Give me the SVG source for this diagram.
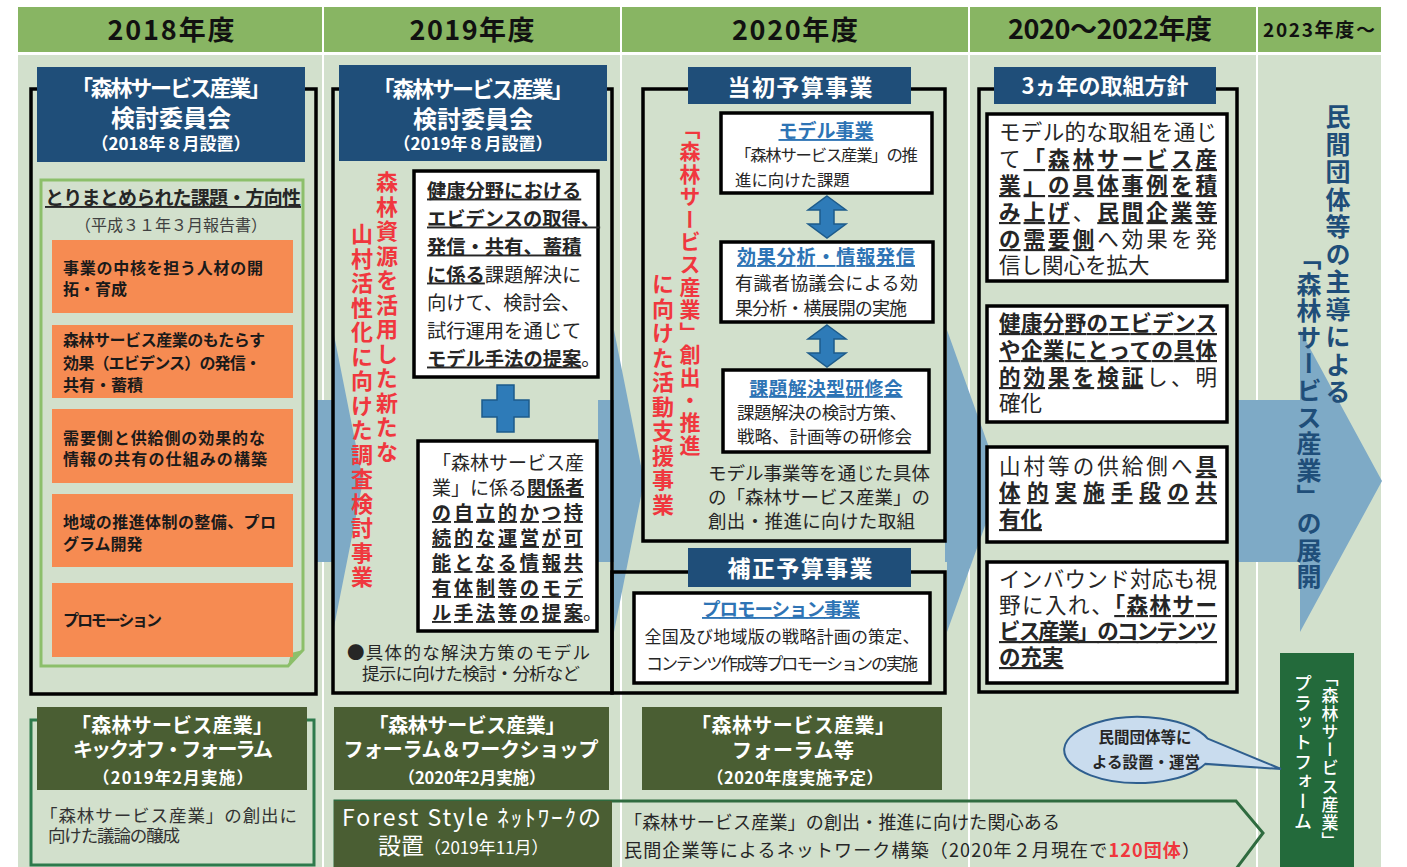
<svg xmlns="http://www.w3.org/2000/svg" width="1407" height="867" viewBox="0 0 1407 867">
<defs>
<style>
text{font-family:"Noto Sans CJK JP","Noto Sans CJK SC",sans-serif;fill:#262626}
.yr{font-size:27px;font-weight:700;fill:#111;text-anchor:middle}
.fr{fill:none;stroke:#000;stroke-width:3.5}
.hb{fill:#1f4e79}
.ht{fill:#fff;font-weight:700;text-anchor:middle}
.or{fill:#f68b52}
.ot{font-size:16px;font-weight:700;fill:#1a1a1a}
.wb{fill:#fff;stroke:#000;stroke-width:3.5}
.rv{fill:#f0373e;font-weight:700;writing-mode:vertical-rl}
.bv{fill:#1f4e79;font-weight:700;writing-mode:vertical-rl}
.wv{fill:#fff;font-weight:500;writing-mode:vertical-rl}
.bt{fill:#2e74b5;font-weight:700;text-decoration:underline;text-anchor:middle}
.b{font-weight:700;text-decoration:underline}
.dg{fill:#4a5e33}
.dt{fill:#fff;text-anchor:middle;font-weight:700}
.wt{fill:#fff}
.gt{fill:#333}
.bga{fill:#7eaac6}
.da{fill:#2e7bb8;stroke:#1d5b8b;stroke-width:1.5}
</style>
</defs>
<g id="background">
<rect width="1407" height="867" fill="#fff"/>
<rect x="18" y="7" width="1363" height="45" fill="#88b563"/>
<rect x="18" y="55" width="1363" height="812" fill="#d2e0cc"/>
<g stroke="#fff" stroke-width="2">
<line x1="323" y1="7" x2="323" y2="867"/>
<line x1="621" y1="7" x2="621" y2="867"/>
<line x1="969" y1="7" x2="969" y2="867"/>
<line x1="1257" y1="7" x2="1257" y2="867"/>
</g>
</g>
<g id="year-headers">
<text class="yr" x="171" y="40" textLength="127">2018年度</text>
<text class="yr" x="472" y="40" textLength="125">2019年度</text>
<text class="yr" x="795" y="40" textLength="126">2020年度</text>
<text class="yr" x="1110" y="39" textLength="204">2020～2022年度</text>
<text class="yr" x="1319" y="37" style="font-size:19px" textLength="112">2023年度～</text>
</g>
<g id="connectors">
<polygon class="bga" points="317,400 333,400 333,330 363,481 333,632 333,562 317,562"/>
<polygon class="bga" points="598,400 614,400 614,330 644,481 614,632 614,562 598,562"/>
<polygon class="bga" points="945,400 947,400 947,330 1001,481 947,632 947,562 945,562"/>
<polygon class="bga" points="1238,400 1300,400 1300,330 1382,481 1300,632 1300,562 1238,562"/>
<polygon class="da" points="827,196 846,210 834,210 834,224 846,224 827,238 808,224 820,224 820,210 808,210"/>
<polygon class="da" points="827,325 846,339 834,339 834,353 846,353 827,367 808,353 820,353 820,339 808,339"/>
<polygon class="da" points="497,385 514,385 514,400 529,400 529,417 514,417 514,432 497,432 497,417 482,417 482,400 497,400"/>
</g>
<g id="n2018-committee">
<rect class="fr" x="31" y="89" width="285" height="605"/>
<rect class="hb" x="37" y="67" width="268" height="95"/>
<text class="ht" x="171" y="96" font-size="22" textLength="200">「森林サービス産業」</text>
<text class="ht" x="171" y="127" font-size="24">検討委員会</text>
<text class="ht" x="171" y="150" font-size="17">（2018年８月設置）</text>
</g>
<g id="n2018-issues">
<path d="M41 180 H303 V650 L288 666 H41 Z" fill="none" stroke="#8cbf6a" stroke-width="3"/>
<polygon points="288,666 291,653 303,650" fill="#8cbf6a"/>
<text x="45" y="205" font-size="19" class="b" textLength="256">とりまとめられた課題・方向性</text>
<text x="171" y="231" font-size="16" style="fill:#404040" text-anchor="middle">（平成３１年３月報告書）</text>
<rect class="or" x="52" y="240" width="241" height="73"/>
<text class="ot" x="63" y="274" textLength="200">事業の中核を担う人材の開</text>
<text class="ot" x="63" y="295">拓・育成</text>
<rect class="or" x="52" y="325" width="241" height="73"/>
<text class="ot" x="63" y="346" textLength="202">森林サービス産業のもたらす</text>
<text class="ot" x="63" y="369" textLength="198">効果（エビデンス）の発信・</text>
<text class="ot" x="63" y="391">共有・蓄積</text>
<rect class="or" x="52" y="409" width="241" height="74"/>
<text class="ot" x="63" y="444" textLength="202">需要側と供給側の効果的な</text>
<text class="ot" x="63" y="465" textLength="204">情報の共有の仕組みの構築</text>
<rect class="or" x="52" y="494" width="241" height="73"/>
<text class="ot" x="63" y="528" textLength="213">地域の推進体制の整備、プロ</text>
<text class="ot" x="63" y="550">グラム開発</text>
<rect class="or" x="52" y="583" width="241" height="74"/>
<text class="ot" x="63" y="626" textLength="99">プロモーション</text>
</g>
<g id="n2019-committee">
<rect class="fr" x="333" y="89" width="279" height="604"/>
<rect class="hb" x="339" y="65" width="268" height="96"/>
<text class="ht" x="473" y="97" font-size="22" textLength="201">「森林サービス産業」</text>
<text class="ht" x="473" y="128" font-size="24">検討委員会</text>
<text class="ht" x="473" y="150" font-size="17">（2019年８月設置）</text>
<text class="rv" x="387" y="171" font-size="22" letter-spacing="2.5">森林資源を活用した新たな</text>
<text class="rv" x="362" y="223" font-size="22" letter-spacing="2.5">山村活性化に向けた調査検討事業</text>
</g>
<g id="n2019-health">
<rect class="wb" x="414" y="171" width="184" height="206"/>
<g font-size="19.3">
<text x="427" y="197.5" class="b">健康分野における</text>
<text x="427" y="225.5" class="b">エビデンスの取得、</text>
<text x="427" y="253.5" class="b">発信・共有、蓄積</text>
<text x="427" y="281.5"><tspan class="b">に係る</tspan>課題解決に</text>
<text x="427" y="309.5">向けて、検討会、</text>
<text x="427" y="337.5">試行運用を通じて</text>
<text x="427" y="365.5"><tspan class="b">モデル手法の提案</tspan>。</text>
</g>
</g>
<g id="n2019-network">
<rect class="wb" x="418" y="441" width="179" height="190"/>
<g font-size="19">
<text x="432" y="470">「森林サービス産</text>
<text x="432" y="495">業」に係る<tspan class="b">関係者</tspan></text>
<text x="432" y="520" class="b" textLength="151">の自立的かつ持</text>
<text x="432" y="545" class="b" textLength="151">続的な運営が可</text>
<text x="432" y="570" class="b" textLength="151">能となる情報共</text>
<text x="432" y="595" class="b" textLength="151">有体制等のモデ</text>
<text x="432" y="620" class="b" textLength="151">ル手法等の提案</text>
<text x="583" y="620">。</text>
</g>
<text x="347" y="658.5" font-size="17.5" textLength="243">●具体的な解決方策のモデル</text>
<text x="362" y="680" font-size="17.5" textLength="218">提示に向けた検討・分析など</text>
</g>
<g id="n2020-initial">
<rect class="fr" x="643" y="89" width="302" height="452"/>
<rect class="hb" x="688" y="67" width="223" height="37"/>
<text class="ht" x="800" y="95.5" font-size="23" textLength="145">当初予算事業</text>
<text class="rv" x="690" y="118" font-size="21" letter-spacing="1.6">「森林サービス産業」創出・推進</text>
<text class="rv" x="663" y="273" font-size="22" letter-spacing="2.5">に向けた活動支援事業</text>
<text x="708" y="479.5" font-size="18.5" textLength="222">モデル事業等を通じた具体</text>
<text x="708" y="503.5" font-size="18.5" textLength="222">の「森林サービス産業」の</text>
<text x="708" y="528" font-size="18.5" textLength="207">創出・推進に向けた取組</text>
</g>
<g id="n2020-model">
<rect class="wb" x="721" y="113" width="211" height="80"/>
<text class="bt" x="826" y="138" font-size="19">モデル事業</text>
<text x="735" y="161" font-size="16.4" textLength="183">「森林サービス産業」の推</text>
<text x="735" y="186" font-size="16.4">進に向けた課題</text>
</g>
<g id="n2020-analysis">
<rect class="wb" x="721" y="242" width="212" height="80"/>
<text class="bt" x="826" y="264" font-size="19" textLength="178">効果分析・情報発信</text>
<text x="735" y="290" font-size="18" textLength="183">有識者協議会による効</text>
<text x="735" y="315" font-size="18" textLength="172">果分析・横展開の実施</text>
</g>
<g id="n2020-training">
<rect class="wb" x="723" y="370" width="206" height="82"/>
<text class="bt" x="826" y="395" font-size="18.5" textLength="153">課題解決型研修会</text>
<text x="737" y="418.5" font-size="17.5" textLength="170">課題解決の検討方策、</text>
<text x="737" y="442.5" font-size="17.5" textLength="175">戦略、計画等の研修会</text>
</g>
<g id="n2020-supplementary">
<rect class="fr" x="612" y="572" width="333" height="121"/>
<rect class="hb" x="688" y="548" width="223" height="39"/>
<text class="ht" x="800" y="577" font-size="23" textLength="145">補正予算事業</text>
<rect class="wb" x="634" y="593" width="296" height="90"/>
<text class="bt" x="781" y="616" font-size="18.5" textLength="158">プロモーション事業</text>
<text x="782" y="642.5" font-size="17" text-anchor="middle" textLength="275">全国及び地域版の戦略計画の策定、</text>
<text x="782" y="669.5" font-size="17" text-anchor="middle" textLength="272">コンテンツ作成等プロモーションの実施</text>
</g>
<g id="n2020-2022-policy">
<rect class="fr" x="979" y="89" width="258" height="603"/>
<rect class="hb" x="994" y="67" width="222" height="37"/>
<text class="ht" x="1105" y="93.5" font-size="22">3ヵ年の取組方針</text>
<g font-size="21.5">
<rect class="wb" x="987" y="114" width="240" height="167"/>
<text x="999" y="140" textLength="218">モデル的な取組を通じ</text>
<text x="999" y="167" textLength="218">て<tspan class="b">「森林サービス産</tspan></text>
<text x="999" y="193" textLength="218" class="b">業」の具体事例を積</text>
<text x="999" y="220" textLength="218"><tspan class="b">み上げ</tspan>、<tspan class="b">民間企業等</tspan></text>
<text x="999" y="247" textLength="218"><tspan class="b">の需要側</tspan>へ効果を発</text>
<text x="999" y="273">信し関心を拡大</text>
<rect class="wb" x="987" y="306" width="240" height="116"/>
<text x="999" y="331" textLength="218" class="b">健康分野のエビデンス</text>
<text x="999" y="358" textLength="218" class="b">や企業にとっての具体</text>
<text x="999" y="385" textLength="218"><tspan class="b">的効果を検証</tspan>し、明</text>
<text x="999" y="411">確化</text>
<rect class="wb" x="987" y="447" width="240" height="95"/>
<text x="999" y="474" textLength="218">山村等の供給側へ<tspan class="b">具</tspan></text>
<text x="999" y="500" textLength="218" class="b">体的実施手段の共</text>
<text x="999" y="527" class="b">有化</text>
<rect class="wb" x="987" y="562" width="240" height="121"/>
<text x="999" y="587" textLength="218">インバウンド対応も視</text>
<text x="999" y="613" textLength="218">野に入れ、<tspan class="b">「森林サー</tspan></text>
<text x="999" y="639" textLength="218" class="b">ビス産業」のコンテンツ</text>
<text x="999" y="665" class="b">の充実</text>
</g>
</g>
<g id="n2023-development">
<text class="bv" x="1338" y="104" font-size="25" letter-spacing="2.5">民間団体等の主導による</text>
<text class="bv" x="1309" y="245" font-size="25" letter-spacing="1.6">「森林サービス産業」の展開</text>
</g>
<g id="n2023-platform">
<rect x="1280" y="653" width="74" height="214" fill="#236a3b"/>
<text class="wv" x="1330" y="669" font-size="17" letter-spacing="1.1">「森林サービス産業」</text>
<text class="wv" x="1303" y="674" font-size="18" letter-spacing="1.7">プラットフォーム</text>
</g>
<g id="n-bubble">
<path d="M1207.7 738.7 L1281 769 L1205.3 763.9 A74 33 0 1 1 1207.7 738.7 Z" fill="#c9dcee" stroke="#2f5f8f" stroke-width="2"/>
<text x="1145" y="743" font-size="15.5" font-weight="700" text-anchor="middle">民間団体等に</text>
<text x="1146" y="768" font-size="15.5" font-weight="700" text-anchor="middle">よる設置・運営</text>
</g>
<g id="n2018-kickoff">
<rect x="31" y="720" width="283" height="145" fill="none" stroke="#2e7a4c" stroke-width="3"/>
<rect class="dg" x="37" y="707" width="270" height="83"/>
<text class="dt" x="172" y="733" font-size="20" textLength="202">「森林サービス産業」</text>
<text class="dt" x="173" y="757" font-size="20" textLength="200">キックオフ・フォーラム</text>
<text class="dt" x="173" y="784" font-size="16.5" textLength="160">（2019年2月実施）</text>
<text class="gt" x="40" y="821.5" font-size="17.5" textLength="257">「森林サービス産業」の創出に</text>
<text class="gt" x="48" y="842" font-size="17.5" textLength="132">向けた議論の醸成</text>
</g>
<g id="n2019-forum">
<rect class="dg" x="334" y="707" width="275" height="83"/>
<text class="dt" x="467" y="733" font-size="20" textLength="197">「森林サービス産業」</text>
<text class="dt" x="471" y="757" font-size="20" textLength="255">フォーラム＆ワークショップ</text>
<text class="dt" x="472" y="784" font-size="16.5" textLength="147">（2020年2月実施）</text>
</g>
<g id="n-network">
<path d="M335 801 H1236 L1263 833 L1236 869 H335 Z" fill="none" stroke="#2f6b3f" stroke-width="3"/>
<rect class="dg" x="334" y="801" width="278" height="66"/>
<text class="wt" x="342" y="826" font-size="23" textLength="259">Forest Style ﾈｯﾄﾜｰｸの</text>
<text class="wt" x="378" y="854" font-size="23">設置<tspan font-size="17">（2019年11月）</tspan></text>
<text x="624" y="829" font-size="18" textLength="436">「森林サービス産業」の創出・推進に向けた関心ある</text>
<text x="624" y="857" font-size="18" textLength="576">民間企業等によるネットワーク構築（2020年２月現在で<tspan fill="#f0373e" font-weight="700">120団体</tspan>）</text>
</g>
<g id="n2020-forum">
<rect class="dg" x="642" y="707" width="300" height="83"/>
<text class="dt" x="793" y="733" font-size="20" textLength="204">「森林サービス産業」</text>
<text class="dt" x="793" y="758" font-size="20" textLength="122">フォーラム等</text>
<text class="dt" x="795" y="784" font-size="16.5" textLength="176">（2020年度実施予定）</text>
</g>
</svg>
